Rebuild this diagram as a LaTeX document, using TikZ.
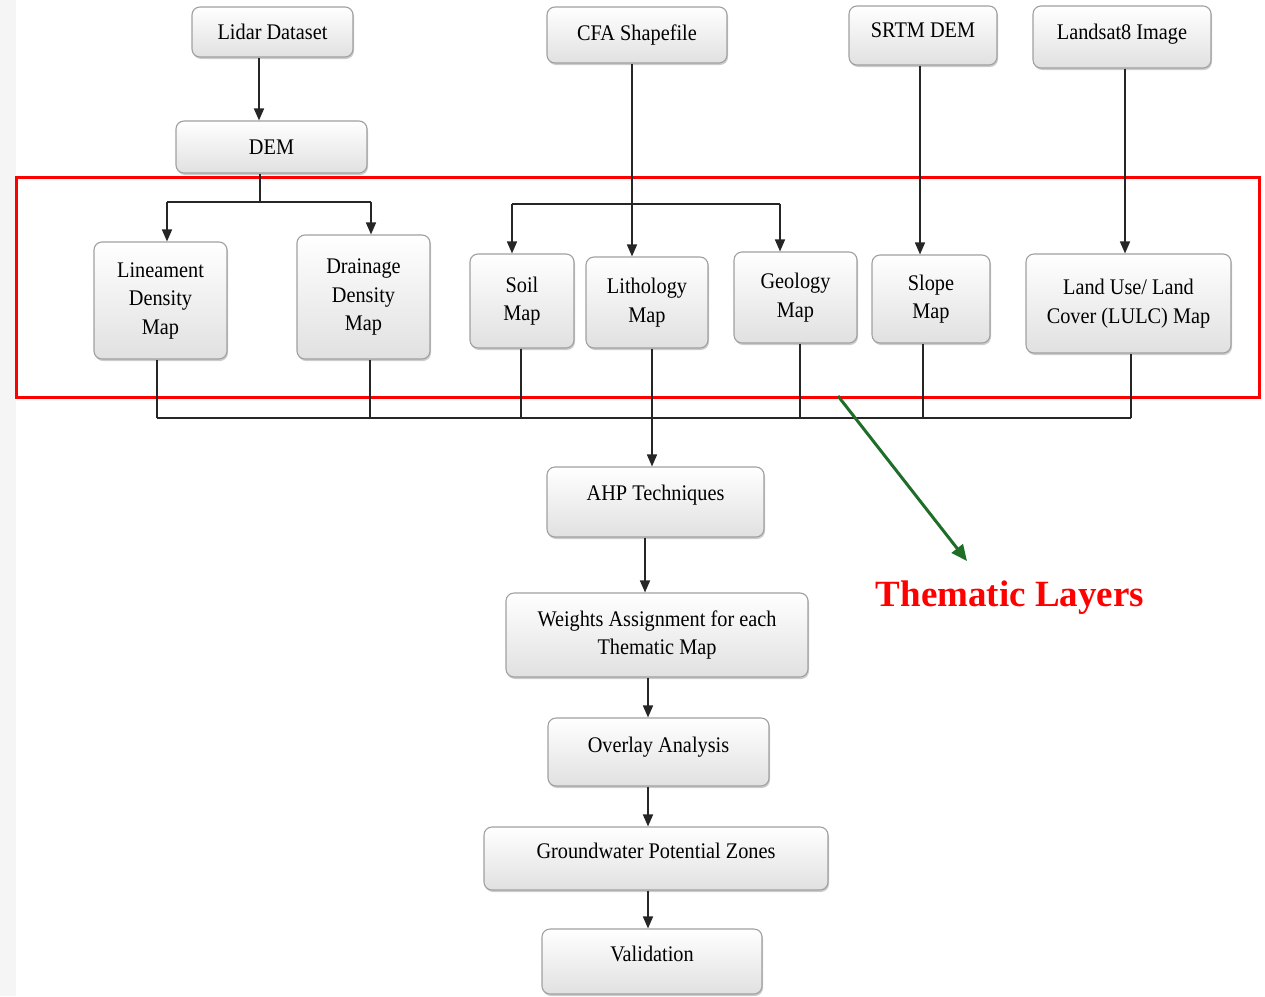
\documentclass[tikz,border=0pt]{standalone}
\usepackage{fontspec}
\setmainfont{Liberation Serif}[FakeStretch=0.91]
\newfontfamily\plainserif{Liberation Serif}
\usetikzlibrary{arrows.meta,shadows}
\definecolor{boxline}{RGB}{160,160,160}
\definecolor{darkgreen}{RGB}{30,110,40}
\tikzset{
  box/.style={draw=boxline, line width=1.1pt, rounded corners=8pt,
    top color=white, bottom color=gray!24, align=center, inner sep=2pt,
    font=\fontsize{22.3}{28.5}\selectfont, text=black,
    drop shadow={shadow xshift=1pt, shadow yshift=-2pt, opacity=0.4, fill=gray}},
  lift/.style={text depth=#1},
  ln/.style={draw=black!85, line width=1.6pt},
  arr/.style={ln, -{Triangle[length=12pt,width=10pt]}},
  garr/.style={draw=darkgreen, line width=3pt, -{Triangle[length=16pt,width=14pt]}},
}
\begin{document}
\begin{tikzpicture}[x=1pt,y=-1pt]
\useasboundingbox (0,0) rectangle (1265,996);
\fill[gray!8] (0,0) rectangle (16,996);

% top sources
\node[box, minimum width=161pt, minimum height=50pt] (lidar) at (272.5,32) {Lidar Dataset};
\node[box, minimum width=191pt, minimum height=52pt] (dem) at (271.5,147) {DEM};
\node[box, minimum width=180pt, minimum height=56pt] (cfa) at (637,35) {CFA Shapefile};
\node[box, minimum width=148pt, minimum height=59pt, lift=10pt] (srtm) at (923,35.5) {SRTM DEM};
\node[box, minimum width=178pt, minimum height=62pt, lift=10pt] (landsat) at (1122,37) {Landsat8 Image};

% thematic maps
\node[box, minimum width=133pt, minimum height=117pt] (lin) at (160.5,300.5) {Lineament\\Density\\Map};
\node[box, minimum width=133pt, minimum height=124pt] (dra) at (363.5,297) {\raisebox{2pt}{Drainage}\\\raisebox{2pt}{Density}\\\raisebox{2pt}{Map}};
\node[box, minimum width=104pt, minimum height=94pt] (soil) at (522,301) {\raisebox{3pt}{Soil}\\\raisebox{3pt}{Map}};
\node[box, minimum width=122pt, minimum height=91pt] (lith) at (647,302.5) {\raisebox{2pt}{Lithology}\\\raisebox{2pt}{Map}};
\node[box, minimum width=123pt, minimum height=91pt] (geo) at (795.5,297.5) {Geology\\Map};
\node[box, minimum width=118pt, minimum height=88pt] (slope) at (931,299) {Slope\\Map};
\node[box, minimum width=205pt, minimum height=99pt] (lulc) at (1128.5,303.5) {\raisebox{4pt}{Land Use/ Land}\\\raisebox{4pt}{Cover (LULC) Map}};

% process chain
\node[box, minimum width=217pt, minimum height=70pt, lift=19pt] (ahp) at (655.5,502) {AHP Techniques};
\node[box, minimum width=302pt, minimum height=84pt] (wts) at (657,635) {\raisebox{-3pt}{Weights Assignment for each}\\\raisebox{-3pt}{Thematic Map}};
\node[box, minimum width=221pt, minimum height=68pt, lift=15pt] (ovl) at (658.5,752) {Overlay Analysis};
\node[box, minimum width=344pt, minimum height=63pt, lift=15pt] (gw) at (656,858.5) {Groundwater Potential Zones};
\node[box, minimum width=220pt, minimum height=65pt, lift=15pt] (val) at (652,961.5) {Validation};

% red frame
\draw[red, line width=3pt] (16,177) rectangle (1259,397);

% coordinates for connectors
\coordinate (l0) at (259,0);
\coordinate (d0) at (260,202);
\coordinate (d1) at (167,202);
\coordinate (d2) at (371,202);
\coordinate (c0) at (632,204);
\coordinate (c1) at (512,204);
\coordinate (c3) at (780,204);
\coordinate (s0) at (920,0);
\coordinate (t0) at (1125,0);
\coordinate (b1) at (157,418);
\coordinate (b2) at (370,418);
\coordinate (b3) at (521,418);
\coordinate (b4) at (652,418);
\coordinate (b5) at (800,418);
\coordinate (b6) at (923,418);
\coordinate (b7) at (1131,418);
\coordinate (p1) at (645,0);
\coordinate (p2) at (648,0);

% Lidar -> DEM -> lineament / drainage
\draw[arr] (lidar.south -| l0) -- (dem.north -| l0);
\draw[ln] (dem.south -| d0) -- (d0);
\draw[ln] (d1) -- (d2);
\draw[arr] (d1) -- (lin.north -| d1);
\draw[arr] (d2) -- (dra.north -| d2);

% CFA -> soil / lithology / geology
\draw[ln] (cfa.south -| c0) -- (c0);
\draw[ln] (c1) -- (c3);
\draw[arr] (c1) -- (soil.north -| c1);
\draw[arr] (c0) -- (lith.north -| c0);
\draw[arr] (c3) -- (geo.north -| c3);

% SRTM -> slope, Landsat -> LULC
\draw[arr] (srtm.south -| s0) -- (slope.north -| s0);
\draw[arr] (landsat.south -| t0) -- (lulc.north -| t0);

% bus
\draw[ln] (lin.south -| b1) -- (b1);
\draw[ln] (dra.south -| b2) -- (b2);
\draw[ln] (soil.south -| b3) -- (b3);
\draw[ln] (lith.south -| b4) -- (b4);
\draw[ln] (geo.south -| b5) -- (b5);
\draw[ln] (slope.south -| b6) -- (b6);
\draw[ln] (lulc.south -| b7) -- (b7);
\draw[ln] (b1) -- (b7);
\draw[arr] (b4) -- (ahp.north -| b4);

% chain
\draw[arr] (ahp.south -| p1) -- (wts.north -| p1);
\draw[arr] (wts.south -| p2) -- (ovl.north -| p2);
\draw[arr] (ovl.south -| p2) -- (gw.north -| p2);
\draw[arr] (gw.south -| p2) -- (val.north -| p2);

% thematic layers annotation
\coordinate (g0) at (838,396);
\coordinate (g1) at (967,561);
\draw[garr] (g0) -- (g1);
\node[text=red, font=\plainserif\fontsize{37}{40}\selectfont\bfseries] (tl) at (1010,598) {Thematic Layers};
\end{tikzpicture}
\end{document}
